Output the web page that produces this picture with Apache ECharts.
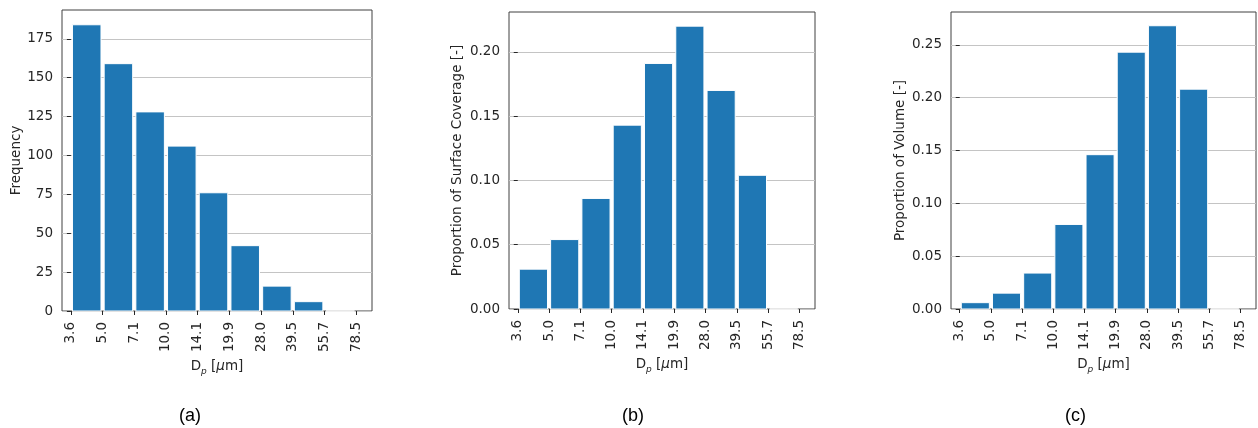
<!DOCTYPE html>
<html>
<head>
<meta charset="utf-8">
<script src="https://cdn.jsdelivr.net/npm/echarts@6/dist/echarts.min.js"></script>
<style>
  html, body { margin: 0; padding: 0; background: #fff; }
  #main { width: 1258px; height: 428px; }
</style>
</head>
<body>
<div id="main"></div>
<script>
// bin edges (D_p in um), one label per edge
var edges = ['3.6', '5.0', '7.1', '10.0', '14.1', '19.9', '28.0', '39.5', '55.7', '78.5'];
// per-bin values (9 bins)
var freq = [184, 159, 128, 106, 76, 42, 16, 6, 0];
var surface = [0.031, 0.054, 0.086, 0.143, 0.191, 0.220, 0.170, 0.104, 0];
var volume = [0.006, 0.015, 0.034, 0.080, 0.146, 0.243, 0.268, 0.208, 0];
// y tick values
var freqTicks = [0, 25, 50, 75, 100, 125, 150, 175];
var surfTicks = [0, 0.05, 0.10, 0.15, 0.20];
var volTicks = [0, 0.05, 0.10, 0.15, 0.20, 0.25];
var captions = ['(a)', '(b)', '(c)'];

var edgeIdx = edges.map(function (e, i) { return i; });
var txt = '#262626';
var font = 'DejaVu Sans';

function toPairs(arr) {
    return arr.map(function (v, i) { return [i, v]; });
}

function renderBar(params, api) {
    var i = api.value(0);
    var v = api.value(1);
    var p0 = api.coord([i + 0.05, v]);
    var p1 = api.coord([i + 0.95, 0]);
    return {
        type: 'rect',
        shape: { x: p0[0], y: p0[1], width: p1[0] - p0[0], height: p1[1] - p0[1] },
        style: { fill: '#1f77b4', stroke: '#ffffff', lineWidth: 1 }
    };
}

function xAxisFor(idx) {
    return {
        type: 'value', gridIndex: idx, min: -0.28, max: 9.5,
        name: '{a|D}{s|p}{a| [}{i|μ}{a|m]}',
        nameLocation: 'middle', nameGap: 45,
        nameTextStyle: {
            color: txt, fontFamily: font, fontSize: 13.5,
            rich: {
                a: { fontSize: 13.5, fontFamily: font, color: txt },
                i: { fontSize: 13.5, fontFamily: font, color: txt, fontStyle: 'italic' },
                s: { fontSize: 9, fontFamily: font, color: txt, fontStyle: 'italic', padding: [10, 0, 0, 0] }
            }
        },
        axisLine: { show: false },
        splitLine: { show: false },
        axisTick: { show: true, customValues: edgeIdx, length: 4, lineStyle: { color: txt } },
        axisLabel: {
            customValues: edgeIdx, rotate: 90, margin: 11,
            color: txt, fontFamily: font, fontSize: 13.5,
            formatter: function (v) { return edges[Math.round(v)]; }
        }
    };
}

function yAxisFor(idx, name, max, ticks, digits, gap) {
    return {
        type: 'value', gridIndex: idx, min: 0, max: max,
        name: name, nameLocation: 'middle', nameGap: gap,
        nameTextStyle: { color: txt, fontFamily: font, fontSize: 13.5 },
        axisLine: { show: false },
        axisTick: { show: true, customValues: ticks, length: 4, lineStyle: { color: txt } },
        axisLabel: {
            customValues: ticks, margin: 9,
            color: txt, fontFamily: font, fontSize: 13.5,
            formatter: function (v) { return v.toFixed(digits); }
        },
        splitLine: { show: true, lineStyle: { color: '#c4c4c4', width: 1 } }
    };
}

var gridBox = { show: true, borderColor: '#404040', borderWidth: 1, backgroundColor: 'transparent' };

var chart = echarts.init(document.getElementById('main'));
var option = {
    animation: false,
    backgroundColor: '#ffffff',
    grid: [
        Object.assign({ left: 62, top: 10, width: 310, height: 301 }, gridBox),
        Object.assign({ left: 509, top: 12, width: 306, height: 297 }, gridBox),
        Object.assign({ left: 951, top: 12, width: 305, height: 297 }, gridBox)
    ],
    xAxis: [xAxisFor(0), xAxisFor(1), xAxisFor(2)],
    yAxis: [
        yAxisFor(0, 'Frequency', 193.5, freqTicks, 0, 39),
        yAxisFor(1, 'Proportion of Surface Coverage [-]', 0.231, surfTicks, 2, 45),
        yAxisFor(2, 'Proportion of Volume [-]', 0.281, volTicks, 2, 44)
    ],
    series: [
        { type: 'custom', xAxisIndex: 0, yAxisIndex: 0, renderItem: renderBar, data: toPairs(freq), z: 3 },
        { type: 'custom', xAxisIndex: 1, yAxisIndex: 1, renderItem: renderBar, data: toPairs(surface), z: 3 },
        { type: 'custom', xAxisIndex: 2, yAxisIndex: 2, renderItem: renderBar, data: toPairs(volume), z: 3 }
    ],
    graphic: [
        { type: 'text', left: 179, top: 407, style: { text: captions[0], font: '18px "Liberation Sans"', fill: '#000' } },
        { type: 'text', left: 622, top: 407, style: { text: captions[1], font: '18px "Liberation Sans"', fill: '#000' } },
        { type: 'text', left: 1065, top: 407, style: { text: captions[2], font: '18px "Liberation Sans"', fill: '#000' } }
    ]
};
chart.setOption(option);
</script>
</body>
</html>
